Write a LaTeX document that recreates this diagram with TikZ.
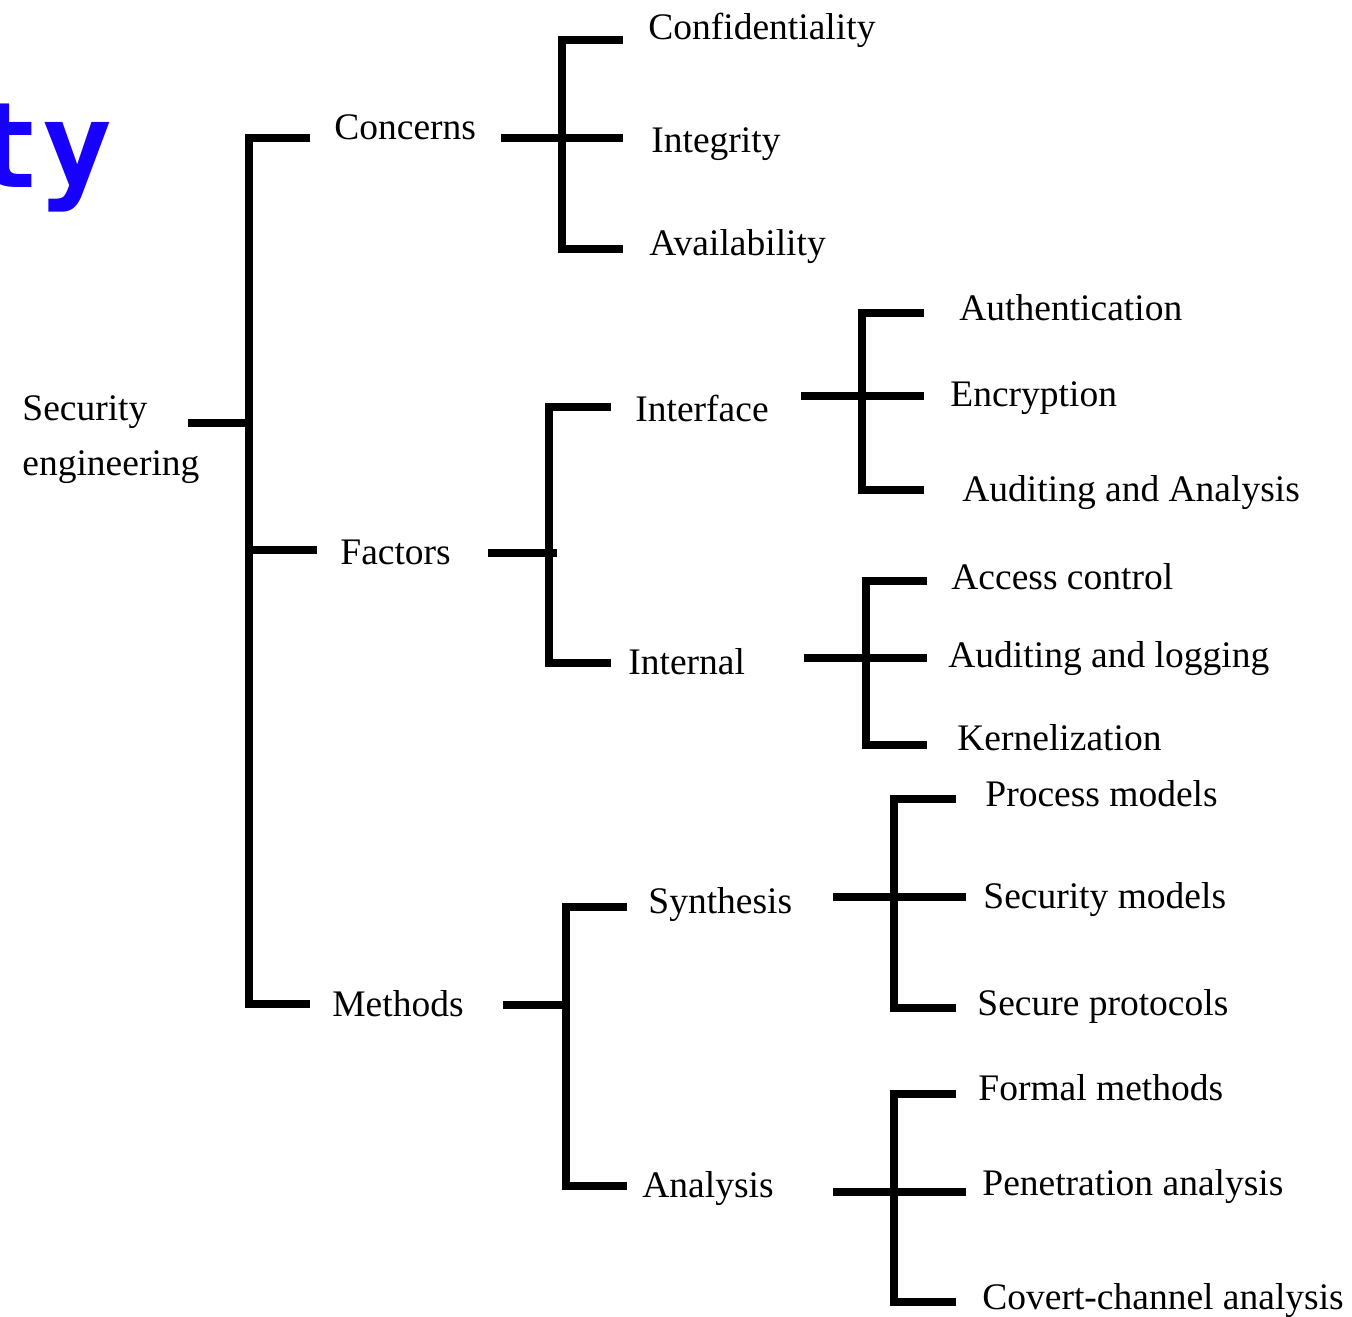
\documentclass[tikz,border=0pt]{standalone}
\usepackage{fontspec}
\setmainfont{Liberation Serif}
\newfontfamily\titlemono{DejaVu Sans Mono}
\definecolor{titleblue}{RGB}{24,0,255}
\tikzset{
  lbl/.style={anchor=base west, inner sep=0pt, font=\fontsize{18.75pt}{22pt}\selectfont},
  brk/.style={line width=4pt, line join=miter, line cap=butt},
}
\begin{document}
\begin{tikzpicture}[x=0.5pt,y=-0.5pt]
\useasboundingbox (0,0) rectangle (1352,1316);
\fill[white] (0,0) rectangle (1352,1316);
% partial title
\node[anchor=base west, inner sep=0pt, text=titleblue, font=\titlemono\bfseries\fontsize{59.5pt}{60pt}\selectfont] (title) at (-31,188) {ty};
% labels
\node[lbl] (root1) at (22,420) {Security};
\node[lbl] (root2) at (22,475) {engineering};
\node[lbl] (concerns) at (334,140) {Concerns};
\node[lbl] (factors) at (340,564) {Factors};
\node[lbl] (methods) at (332,1016) {Methods};
\node[lbl] (conf) at (648,40) {Confidentiality};
\node[lbl] (integ) at (651,153) {Integrity};
\node[lbl] (avail) at (649,255) {Availability};
\node[lbl] (interface) at (635,421) {Interface};
\node[lbl] (internal) at (628,674) {Internal};
\node[lbl] (auth) at (959,320) {Authentication};
\node[lbl] (encr) at (950,406) {Encryption};
\node[lbl] (audan) at (962,501) {Auditing and Analysis};
\node[lbl] (access) at (951,589) {Access control};
\node[lbl] (audlog) at (948,667) {Auditing and logging};
\node[lbl] (kern) at (957,750) {Kernelization};
\node[lbl] (synth) at (648,913) {Synthesis};
\node[lbl] (analysis) at (642,1197) {Analysis};
\node[lbl] (procm) at (985,806) {Process models};
\node[lbl] (secm) at (983,908) {Security models};
\node[lbl] (secp) at (977,1015) {Secure protocols};
\node[lbl] (formal) at (978,1100) {Formal methods};
\node[lbl] (penet) at (982,1195) {Penetration analysis};
\node[lbl] (covert) at (982,1309) {Covert-channel analysis};
% bracket coordinates and lines
% level 1
\coordinate (r0) at (188,423); \coordinate (r1) at (249,423);
\coordinate (a1) at (310,138); \coordinate (a2) at (249,138);
\coordinate (a3) at (249,1004); \coordinate (a4) at (310,1004);
\coordinate (f0) at (249,550); \coordinate (f1) at (317,550);
\draw[brk] (r0) -- (r1);
\draw[brk] (a1) -- (a2) -- (a3) -- (a4);
\draw[brk] (f0) -- (f1);
% concerns
\coordinate (c0) at (501,138); \coordinate (c1) at (623,138);
\coordinate (c2) at (623,40); \coordinate (c3) at (562,40);
\coordinate (c4) at (562,249); \coordinate (c5) at (623,249);
\draw[brk] (c0) -- (c1);
\draw[brk] (c2) -- (c3) -- (c4) -- (c5);
% factors
\coordinate (d0) at (488,553); \coordinate (d1) at (557,553);
\coordinate (d2) at (611,407); \coordinate (d3) at (549,407);
\coordinate (d4) at (549,663); \coordinate (d5) at (611,663);
\draw[brk] (d0) -- (d1);
\draw[brk] (d2) -- (d3) -- (d4) -- (d5);
% interface
\coordinate (e0) at (801,396); \coordinate (e1) at (924,396);
\coordinate (e2) at (924,313); \coordinate (e3) at (862,313);
\coordinate (e4) at (862,490); \coordinate (e5) at (924,490);
\draw[brk] (e0) -- (e1);
\draw[brk] (e2) -- (e3) -- (e4) -- (e5);
% internal
\coordinate (g0) at (804,658); \coordinate (g1) at (927,658);
\coordinate (g2) at (927,581); \coordinate (g3) at (866,581);
\coordinate (g4) at (866,745); \coordinate (g5) at (927,745);
\draw[brk] (g0) -- (g1);
\draw[brk] (g2) -- (g3) -- (g4) -- (g5);
% methods
\coordinate (m0) at (503,1005); \coordinate (m1) at (566,1005);
\coordinate (m2) at (627,907); \coordinate (m3) at (566,907);
\coordinate (m4) at (566,1186); \coordinate (m5) at (627,1186);
\draw[brk] (m0) -- (m1);
\draw[brk] (m2) -- (m3) -- (m4) -- (m5);
% synthesis
\coordinate (s0) at (833,897); \coordinate (s1) at (966,897);
\coordinate (s2) at (956,799); \coordinate (s3) at (894,799);
\coordinate (s4) at (894,1008); \coordinate (s5) at (956,1008);
\draw[brk] (s0) -- (s1);
\draw[brk] (s2) -- (s3) -- (s4) -- (s5);
% analysis
\coordinate (n0) at (833,1192); \coordinate (n1) at (966,1192);
\coordinate (n2) at (956,1094); \coordinate (n3) at (894,1094);
\coordinate (n4) at (894,1302); \coordinate (n5) at (956,1302);
\draw[brk] (n0) -- (n1);
\draw[brk] (n2) -- (n3) -- (n4) -- (n5);
\end{tikzpicture}
\end{document}
